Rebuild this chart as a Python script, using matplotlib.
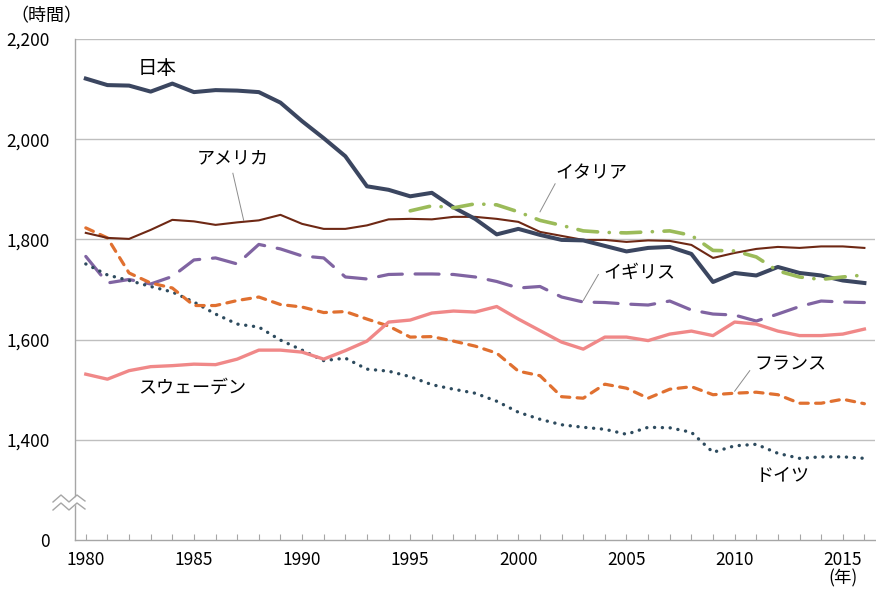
import matplotlib
matplotlib.use('Agg')
import matplotlib.pyplot as plt
import matplotlib.transforms as mtransforms

plt.rcParams['font.family'] = ['Noto Sans CJK JP', 'DejaVu Sans']

# 年
years = list(range(1980, 2017))
years_italy = list(range(1995, 2017))

# 年間労働時間（時間）
japan = [2121, 2108, 2107, 2095, 2111, 2094, 2098, 2097, 2094, 2073,
         2036, 2002, 1966, 1906, 1899, 1886, 1893, 1864, 1841, 1810,
         1821, 1809, 1799, 1798, 1787, 1776, 1783, 1785, 1771, 1715,
         1733, 1728, 1745, 1733, 1728, 1718, 1713]
usa = [1813, 1803, 1801, 1819, 1839, 1836, 1829, 1834, 1838, 1849,
       1831, 1821, 1821, 1828, 1840, 1841, 1840, 1845, 1845, 1841,
       1835, 1815, 1807, 1799, 1799, 1795, 1798, 1797, 1789, 1763,
       1773, 1781, 1785, 1783, 1786, 1786, 1783]
italy = [1857, 1867, 1863, 1871, 1869, 1855, 1838, 1828, 1817, 1814,
         1813, 1815, 1817, 1808, 1778, 1777, 1765, 1737, 1725, 1720,
         1725, 1729]
uk = [1766, 1713, 1720, 1711, 1726, 1759, 1763, 1751, 1790, 1781,
      1767, 1763, 1725, 1721, 1730, 1731, 1731, 1730, 1725, 1716,
      1703, 1706, 1685, 1675, 1674, 1671, 1669, 1677, 1659, 1651,
      1649, 1637, 1651, 1666, 1677, 1675, 1674]
france = [1823, 1803, 1733, 1713, 1703, 1668, 1668, 1678, 1685, 1670,
          1665, 1654, 1656, 1641, 1627, 1605, 1606, 1597, 1587, 1573,
          1537, 1528, 1486, 1483, 1511, 1503, 1483, 1501, 1506, 1490,
          1493, 1495, 1490, 1473, 1473, 1481, 1472]
germany = [1751, 1729, 1718, 1706, 1695, 1675, 1651, 1631, 1625, 1599,
           1579, 1558, 1563, 1541, 1537, 1526, 1510, 1501, 1493, 1477,
           1455, 1441, 1430, 1425, 1421, 1411, 1425, 1424, 1415, 1375,
           1388, 1391, 1373, 1363, 1366, 1366, 1363]
sweden = [1531, 1521, 1538, 1546, 1548, 1551, 1550, 1561, 1579, 1579,
          1575, 1561, 1578, 1597, 1635, 1639, 1653, 1657, 1655, 1666,
          1641, 1618, 1595, 1581, 1605, 1605, 1598, 1611, 1617, 1608,
          1635, 1631, 1617, 1608, 1608, 1611, 1621]

ytick_vals = [1200, 1400, 1600, 1800, 2000, 2200]
ytick_labels = ['0', '1,400', '1,600', '1,800', '2,000', '2,200']
xtick_labels = [1980, 1985, 1990, 1995, 2000, 2005, 2010, 2015]

fig = plt.figure(figsize=(8.76, 5.91), dpi=100)
ax = fig.add_axes([0.0856, 0.0863, 0.9135, 0.8477])

ax.plot(years, japan, color='#3B4660', lw=2.9, solid_joinstyle='round', zorder=5)
ax.plot(years, usa, color='#6E2814', lw=1.5, zorder=4)
ax.plot(years, uk, color='#8064A2', lw=2.3, dashes=(7.5, 4), dash_capstyle='round', zorder=3)
ax.plot(years, germany, color='#2D4B5E', lw=2.4, dashes=(0.05, 2.3), dash_capstyle='round', zorder=3)
ax.plot(years, france, color='#E07030', lw=2.3, dashes=(2.6, 2.3), dash_capstyle='round', zorder=3)
ax.plot(years_italy, italy, color='#9BBB59', lw=2.6, dashes=(5.5, 3.2, 0.05, 3.2), dash_capstyle='round', zorder=6)
ax.plot(years, sweden, color='#F08888', lw=2.4, zorder=3)

ax.set_xlim(1979.5, 2016.5)
ax.set_ylim(1200, 2200)
ax.set_yticks(ytick_vals)
ax.set_yticklabels(ytick_labels)
ax.set_xticks(years)
ax.set_xticklabels([str(y) if y in xtick_labels else '' for y in years])

ax.tick_params(axis='y', length=0, pad=18, labelsize=12.5)
ax.tick_params(axis='x', direction='in', length=4, width=0.8, color='#A6A6A6', pad=8, labelsize=12.5)

for v in ytick_vals[1:]:
    ax.axhline(v, color='#BFBFBF', lw=1.0, zorder=1)

for s in ['top', 'right']:
    ax.spines[s].set_visible(False)
for s in ['left', 'bottom']:
    ax.spines[s].set_color('#A6A6A6')
    ax.spines[s].set_linewidth(1.0)

# 系列ラベル
lab = dict(fontsize=13, color='black', ha='center', va='center', zorder=8)
ax.text(1983.3, 2142, '日本', fontsize=14, color='black', ha='center', va='center', zorder=8)
ax.text(1986.8, 1962, 'アメリカ', **lab)
ax.text(2003.4, 1932, 'イタリア', **lab)
ax.text(2005.6, 1734, 'イギリス', **lab)
ax.text(2012.6, 1550, 'フランス', **lab)
ax.text(2012.2, 1328, 'ドイツ', **lab)
ax.text(1984.9, 1504, 'スウェーデン', **lab)

lead = dict(color='#8C8C8C', lw=0.7, zorder=7)
ax.plot([1986.8, 1987.3], [1932, 1838], **lead)
ax.plot([2001.7, 2001.0], [1911, 1855], **lead)
ax.plot([2003.7, 2003.0], [1730, 1678], **lead)
ax.plot([2010.7, 2010.0], [1538, 1497], **lead)

# 軸の省略記号
W, H = 801.0, 501.0
zx = [-22, -14, -6, 2, 10]
zy = [0, 7, 0, 7, 1]
tr = ax.transAxes
top_line = ([x / W for x in zx], [(y + 38) / H for y in zy])
bot_line = ([x / W for x in zx], [(y + 30) / H for y in zy])
ax.fill_between(top_line[0], bot_line[1], top_line[1], transform=tr,
                color='white', clip_on=False, zorder=9, lw=0)
ax.plot(*top_line, transform=tr, color='#A6A6A6', lw=1.0, clip_on=False, zorder=10)
ax.plot(*bot_line, transform=tr, color='#A6A6A6', lw=1.0, clip_on=False, zorder=10)

fig.text(0.053, 0.972, '（時間）', fontsize=13, ha='center', va='center')
trx = mtransforms.blended_transform_factory(ax.transData, ax.transAxes)
ax.text(2015, -0.077, '(年)', transform=trx, fontsize=12.5, ha='center', va='center')

fig.savefig('out.png', dpi=100)
